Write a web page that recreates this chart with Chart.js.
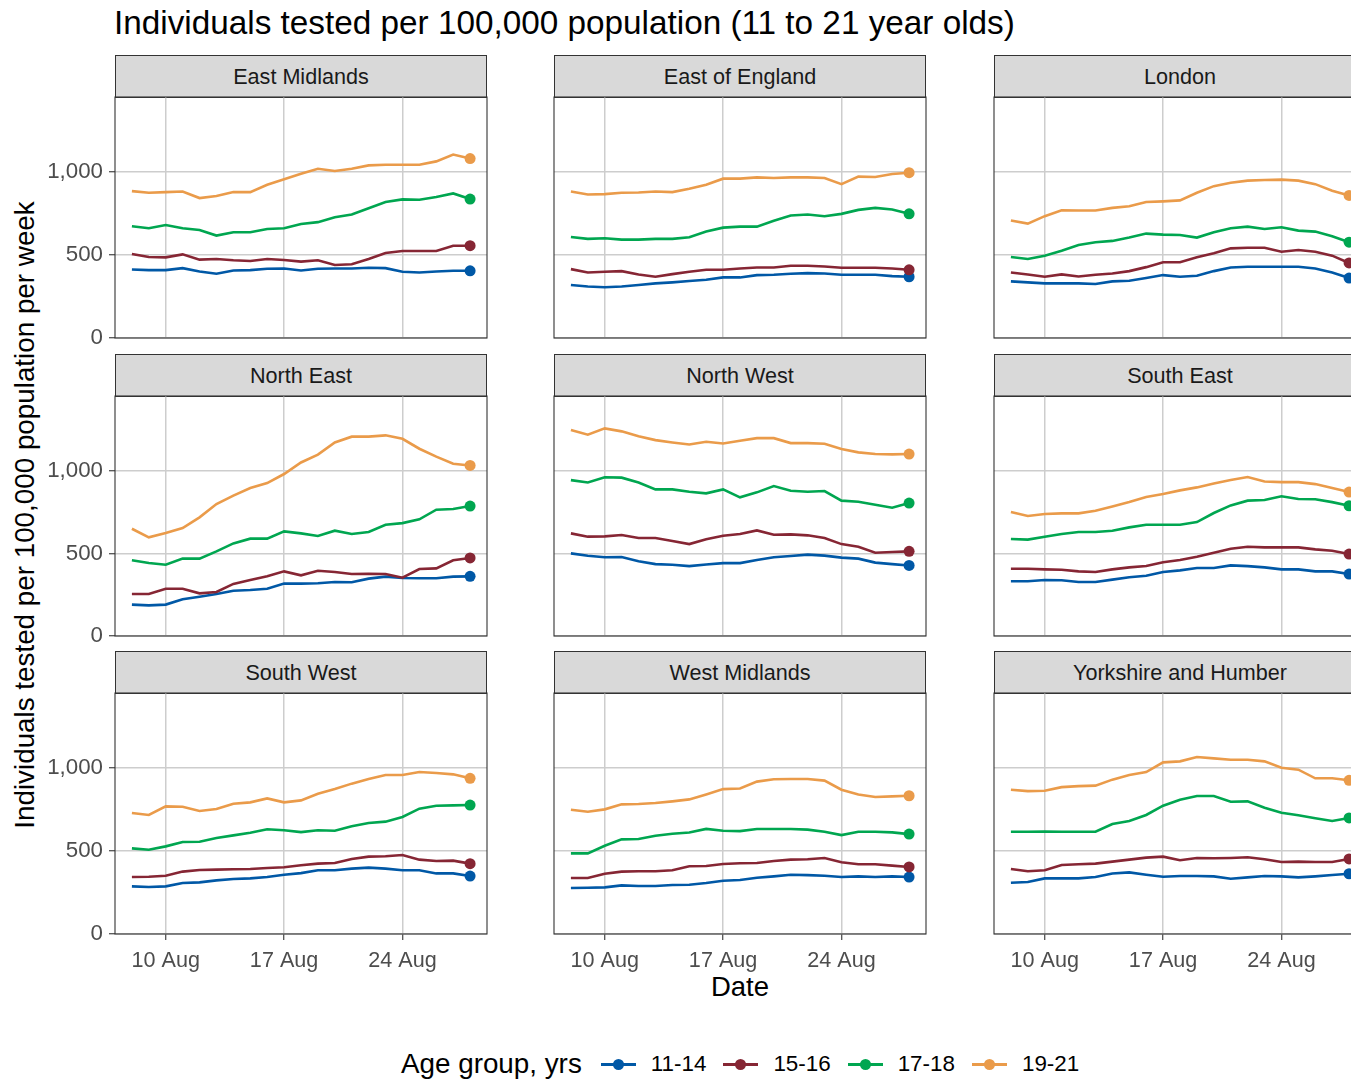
<!DOCTYPE html>
<html>
<head>
<meta charset="utf-8">
<script src="https://cdn.jsdelivr.net/npm/chart.js@4.4.1/dist/chart.umd.min.js"></script>
<style>
  body { margin: 0; width: 1351px; height: 1080px; overflow: hidden; background: #fff; position: relative;
         font-family: 'Liberation Sans', Arial, sans-serif; }
  #title { position: absolute; left: 114px; top: 6px; font-size: 33.3px; line-height: 1; color: #000; white-space: nowrap; }
  #ytitle { position: absolute; left: -425px; top: 500px; width: 900px; height: 30px; line-height: 30px;
            font-size: 27.8px; text-align: center; transform: rotate(-90deg); white-space: nowrap; }
  #xtitle { position: absolute; left: 640px; top: 972px; width: 200px; height: 30px; line-height: 30px;
            font-size: 27.5px; text-align: center; }
  .strip { position: absolute; box-sizing: border-box; background: #d9d9d9; border: 1.1px solid #333;
           color: #1a1a1a; font-size: 21.6px; text-align: center; }
  .panel { position: absolute; }
  #legend { position: absolute; left: 401px; top: 1049px; height: 30px; display: flex; align-items: center; white-space: nowrap; }
  #legend .ltitle { font-size: 27.8px; margin-right: 19px; }
  #legend .key { position: relative; width: 35px; height: 12px; }
  #legend .key::before { content: ''; position: absolute; left: 0; right: 0; top: 5px; height: 2.6px; background: var(--c); }
  #legend .key::after { content: ''; position: absolute; left: 12px; top: 0.5px; width: 11px; height: 11px; border-radius: 50%; background: var(--c); }
  #legend .lab { font-size: 22.4px; margin-left: 15px; margin-right: 17px; }
</style>
</head>
<body>
<div id="title">Individuals tested per 100,000 population (11 to 21 year olds)</div>
<div id="ytitle">Individuals tested per 100,000 population per week</div>
<div id="xtitle">Date</div>
<div id="legend"></div>

<script>
// Days of August on the x axis
let dates = [8, 9, 10, 11, 12, 13, 14, 15, 16, 17, 18, 19, 20, 21, 22, 23, 24, 25, 26, 27, 28]
let xTicks = [10, 17, 24]
let yTicks = [0, 500, 1000]

let ageGroups = ['11-14', '15-16', '17-18', '19-21']
let ageColors = ['#0058a6', '#862634', '#00a650', '#ea9b4a']

let regions = ['East Midlands', 'East of England', 'London', 'North East', 'North West',
               'South East', 'South West', 'West Midlands', 'Yorkshire and Humber']

// One array per age group, in the order of ageGroups
let eastMidlands = [
  [413, 409, 409, 421, 401, 387, 407, 409, 417, 419, 407, 417, 419, 419, 423, 421, 399, 395, 401, 405, 405],
  [506, 488, 486, 504, 472, 476, 468, 464, 476, 470, 460, 468, 440, 444, 476, 512, 524, 524, 524, 556, 556],
  [673, 661, 681, 661, 651, 617, 637, 637, 657, 661, 687, 698, 728, 744, 782, 819, 835, 833, 849, 871, 837],
  [885, 875, 879, 883, 843, 855, 879, 879, 923, 956, 990, 1020, 1006, 1020, 1040, 1044, 1044, 1044, 1064, 1105, 1081]
]
let eastOfEngland = [
  [319, 310, 306, 310, 319, 329, 335, 343, 351, 365, 365, 379, 381, 387, 391, 389, 381, 381, 381, 373, 369],
  [415, 395, 399, 403, 383, 369, 385, 399, 411, 411, 419, 425, 425, 435, 435, 431, 423, 423, 423, 419, 411],
  [609, 597, 601, 593, 593, 597, 597, 607, 641, 665, 671, 671, 706, 738, 744, 734, 748, 772, 784, 774, 748],
  [883, 865, 867, 875, 877, 883, 879, 899, 923, 960, 960, 968, 964, 968, 968, 964, 927, 972, 970, 988, 996]
]
let london = [
  [341, 335, 329, 329, 329, 325, 341, 345, 361, 379, 369, 375, 403, 425, 429, 429, 429, 429, 419, 395, 361],
  [395, 383, 369, 383, 371, 381, 389, 403, 427, 456, 456, 486, 510, 540, 544, 544, 520, 530, 520, 496, 452],
  [488, 476, 496, 526, 560, 577, 585, 605, 629, 623, 621, 605, 637, 661, 671, 657, 667, 647, 641, 613, 577],
  [708, 689, 734, 770, 768, 768, 784, 794, 819, 823, 829, 875, 915, 935, 948, 952, 954, 948, 927, 887, 859]
]
let northEast = [
  [190, 185, 190, 222, 238, 254, 274, 278, 286, 317, 317, 319, 327, 325, 347, 359, 351, 349, 349, 359, 361],
  [254, 254, 286, 286, 258, 266, 315, 339, 361, 391, 367, 395, 387, 375, 377, 375, 353, 405, 409, 458, 472],
  [458, 442, 431, 468, 468, 512, 560, 589, 589, 633, 621, 605, 637, 617, 629, 673, 683, 706, 764, 768, 786],
  [649, 597, 623, 653, 718, 798, 849, 895, 925, 980, 1050, 1097, 1171, 1206, 1206, 1214, 1193, 1133, 1085, 1042, 1032]
]
let northWest = [
  [500, 486, 476, 478, 452, 435, 431, 423, 433, 441, 441, 460, 476, 484, 492, 486, 474, 468, 444, 435, 427],
  [621, 601, 603, 611, 593, 593, 575, 556, 585, 607, 617, 639, 613, 615, 609, 593, 556, 540, 504, 508, 512],
  [943, 929, 960, 958, 929, 887, 887, 873, 863, 887, 839, 869, 907, 879, 873, 877, 819, 812, 794, 776, 804],
  [1246, 1218, 1256, 1238, 1208, 1185, 1171, 1159, 1175, 1165, 1181, 1197, 1197, 1167, 1167, 1163, 1131, 1111, 1101, 1099, 1101]
]
let southEast = [
  [331, 331, 339, 337, 327, 327, 341, 355, 365, 387, 397, 411, 411, 427, 423, 415, 403, 403, 391, 391, 375],
  [407, 407, 403, 401, 391, 387, 403, 415, 423, 446, 460, 480, 504, 528, 540, 536, 536, 536, 524, 516, 496],
  [587, 583, 601, 617, 629, 629, 637, 657, 673, 673, 673, 689, 744, 790, 819, 823, 845, 829, 827, 810, 788],
  [750, 726, 738, 742, 742, 758, 784, 810, 841, 859, 881, 899, 923, 944, 962, 935, 931, 931, 919, 895, 871]
]
let southWest = [
  [287, 283, 287, 307, 311, 323, 331, 335, 343, 357, 367, 384, 384, 394, 400, 394, 384, 384, 365, 365, 349],
  [343, 345, 351, 376, 386, 388, 390, 392, 398, 402, 414, 424, 428, 452, 466, 468, 476, 448, 440, 442, 424],
  [516, 508, 528, 554, 556, 578, 594, 610, 631, 625, 614, 625, 622, 649, 669, 677, 705, 755, 773, 775, 777],
  [729, 717, 769, 767, 741, 753, 785, 793, 817, 793, 805, 845, 873, 906, 934, 958, 958, 976, 970, 962, 938]
]
let westMidlands = [
  [277, 279, 281, 293, 289, 289, 295, 297, 307, 321, 325, 339, 347, 357, 355, 351, 343, 347, 343, 347, 343],
  [337, 337, 363, 376, 378, 378, 384, 408, 410, 422, 426, 428, 440, 448, 450, 458, 432, 420, 420, 412, 404],
  [486, 486, 532, 570, 572, 592, 604, 612, 633, 622, 620, 633, 633, 633, 629, 616, 596, 616, 616, 612, 602],
  [749, 737, 751, 781, 783, 789, 799, 811, 841, 873, 877, 918, 932, 934, 934, 924, 869, 841, 825, 829, 833]
]
let yorkshire = [
  [309, 313, 335, 335, 335, 343, 365, 371, 357, 345, 349, 349, 347, 333, 341, 349, 347, 341, 347, 355, 363],
  [392, 378, 384, 416, 420, 424, 436, 448, 460, 466, 444, 458, 456, 458, 462, 450, 434, 436, 434, 434, 452],
  [616, 616, 618, 616, 616, 616, 663, 681, 717, 773, 809, 831, 831, 797, 799, 761, 731, 715, 697, 681, 699],
  [869, 861, 863, 885, 891, 894, 930, 958, 976, 1034, 1040, 1066, 1058, 1050, 1050, 1040, 1002, 990, 938, 938, 926]
]

let regionData = [eastMidlands, eastOfEngland, london, northEast, northWest,
                  southEast, southWest, westMidlands, yorkshire]

// Panel grid layout (pixels)
let colLeft = [115, 554, 994]
let rowTop = [97, 396, 693]
let rowHeight = [241, 240, 241]
let panelWidth = 372
let padLeft = 70, padTop = 20, padRight = 20, padBottom = 50

let tickFont = { family: "'Liberation Sans', Arial, sans-serif", size: 21.6 }
let yTickFont = { family: "'Liberation Sans', Arial, sans-serif", size: 22.3 }

// Draw the dark frame round each panel
let panelBorder = {
  id: 'panelBorder',
  afterDatasetsDraw(chart) {
    let ctx = chart.ctx
    let a = chart.chartArea
    ctx.save()
    ctx.strokeStyle = '#333333'
    ctx.lineWidth = 1.1
    ctx.strokeRect(a.left, a.top, a.right - a.left, a.bottom - a.top)
    ctx.restore()
  }
}

// Legend built from the age groups
let legend = document.querySelector('#legend')
legend.innerHTML = '<span class="ltitle">Age group, yrs</span>' +
  ageGroups.map((g, i) => `<span class="key" style="--c:${ageColors[i]}"></span><span class="lab">${g}</span>`).join('')

regions.forEach(function(region, r) {
  let col = r % 3
  let row = Math.floor(r / 3)
  let left = colLeft[col]
  let top = rowTop[row]
  let height = rowHeight[row]
  let showY = col === 0
  let showX = row === 2

  // Strip with the region name
  let strip = document.createElement('div')
  strip.className = 'strip'
  strip.style.left = left + 'px'
  strip.style.top = (top - 42) + 'px'
  strip.style.width = panelWidth + 'px'
  strip.style.height = '43px'
  strip.style.lineHeight = '41px'
  strip.textContent = region
  document.body.appendChild(strip)

  let canvas = document.createElement('canvas')
  canvas.className = 'panel'
  canvas.width = panelWidth + padLeft + padRight
  canvas.height = height + padTop + padBottom
  canvas.style.left = (left - padLeft) + 'px'
  canvas.style.top = (top - padTop) + 'px'
  document.body.appendChild(canvas)

  let datasets = ageGroups.map(function(group, i) {
    let values = regionData[r][i]
    return {
      label: group,
      data: values.map((v, j) => ({ x: dates[j], y: v })),
      borderColor: ageColors[i],
      backgroundColor: ageColors[i],
      borderWidth: 2.6,
      tension: 0,
      pointRadius: c => c.dataIndex === values.length - 1 ? 5.5 : 0,
      pointBorderWidth: 0,
      order: ageGroups.length - i,
      clip: false
    }
  })

  new Chart(canvas.getContext('2d'), {
    type: 'line',
    data: { datasets: datasets },
    options: {
      responsive: false,
      animation: false,
      events: [],
      layout: { padding: { top: padTop, right: padRight, left: 0, bottom: 0 } },
      plugins: { legend: { display: false }, tooltip: { enabled: false } },
      scales: {
        x: {
          type: 'linear',
          min: 7,
          max: 29,
          afterBuildTicks: s => { s.ticks = xTicks.map(v => ({ value: v })) },
          afterFit: s => { s.height = padBottom },
          border: { display: false },
          grid: { color: '#cdcdcd', lineWidth: 1.5, drawTicks: showX, tickLength: 6, tickColor: '#333333', tickWidth: 1.1 },
          ticks: { display: showX, font: tickFont, color: '#4d4d4d', padding: 8, maxRotation: 0, autoSkip: false,
                   callback: v => v + ' Aug' }
        },
        y: {
          min: 0,
          max: 1452,
          afterBuildTicks: s => { s.ticks = yTicks.map(v => ({ value: v })) },
          afterFit: s => { s.width = padLeft },
          border: { display: false },
          grid: { color: '#cdcdcd', lineWidth: 1.5, drawTicks: showY, tickLength: 6, tickColor: '#333333', tickWidth: 1.1 },
          ticks: { display: showY, font: yTickFont, color: '#4d4d4d', padding: 6,
                   callback: v => v.toLocaleString('en-US') }
        }
      }
    },
    plugins: [panelBorder]
  })
})
</script>
</body>
</html>
